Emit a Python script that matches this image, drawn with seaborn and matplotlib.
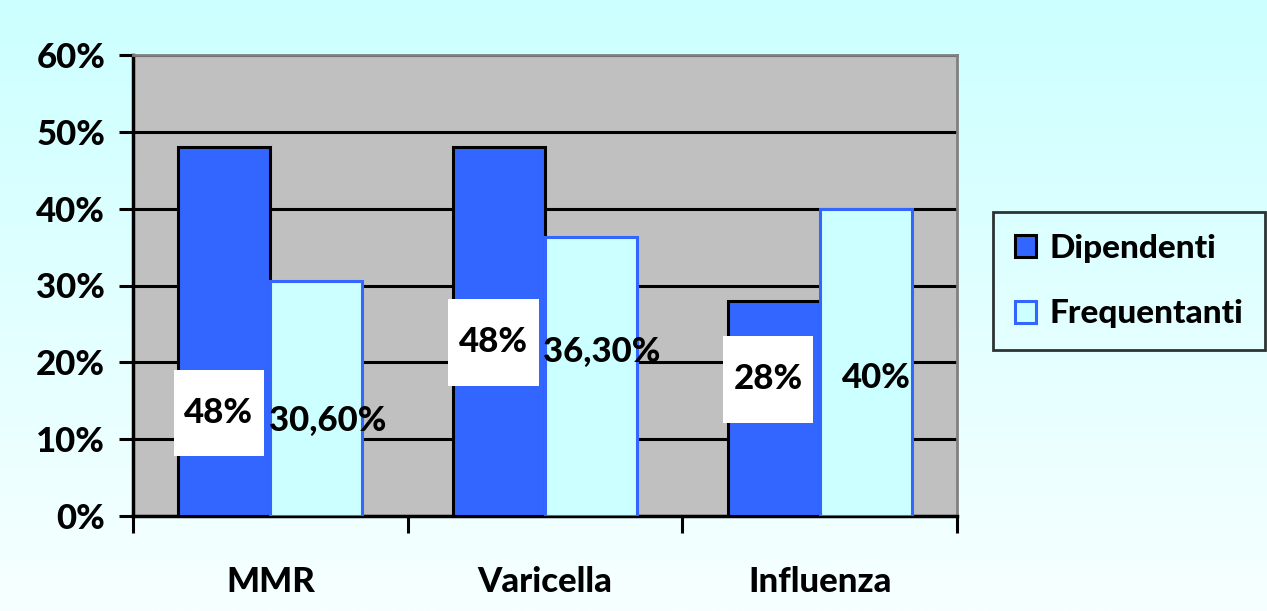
import numpy as np
import pandas as pd
import matplotlib
matplotlib.use("Agg")
import matplotlib.pyplot as plt
from matplotlib.ticker import FuncFormatter, FixedLocator
from matplotlib.colors import LinearSegmentedColormap
from matplotlib.patches import Patch, Rectangle
import seaborn as sns

# data
vaccini = ["MMR", "Varicella", "Influenza"]
gruppi = ["Dipendenti", "Frequentanti"]
dipendenti = [48.0, 48.0, 28.0]
frequentanti = [30.6, 36.3, 40.0]
etichette_dip = ["48%", "48%", "28%"]
etichette_freq = ["30,60%", "36,30%", "40%"]
# heights where the data labels sit (as in the original slide)
pos_dip = [13.4, 22.6, 17.8]
pos_freq = [12.4, 21.3, 18.0]

df = pd.DataFrame({
    "vaccino": vaccini * 2,
    "gruppo": [gruppi[0]] * 3 + [gruppi[1]] * 3,
    "valore": dipendenti + frequentanti,
})

BLUE = "#3366ff"
CYAN = "#ccffff"
GRAY = "#c0c0c0"
W = "black"  # font weight

sns.set_style("white")
plt.rcParams["font.family"] = ["Lato", "DejaVu Sans"]
plt.rcParams["text.color"] = "black"
plt.rcParams["xtick.labelcolor"] = "black"
plt.rcParams["ytick.labelcolor"] = "black"

fig = plt.figure(figsize=(12.67, 6.11), dpi=100)

# gradient background
bg = fig.add_axes([0, 0, 1, 1], zorder=-10)
grad = np.linspace(0, 1, 256).reshape(-1, 1)
cmap = LinearSegmentedColormap.from_list("bg", ["#ccffff", "#f7ffff"])
bg.imshow(grad, aspect="auto", cmap=cmap, extent=[0, 1, 0, 1])
bg.axis("off")

ax = fig.add_axes([133 / 1267, 1 - 516 / 611, (957 - 133) / 1267, (516 - 55) / 611])
ax.set_facecolor(GRAY)

sns.barplot(data=df, x="vaccino", y="valore", hue="gruppo",
            palette=[BLUE, CYAN], width=0.67, ax=ax, saturation=1,
            legend=False, zorder=3)

for bar in ax.containers[0]:
    bar.set_edgecolor("black")
    bar.set_linewidth(2.2)
for bar in ax.containers[1]:
    bar.set_edgecolor(BLUE)
    bar.set_linewidth(2.2)

ax.set_ylim(0, 60)
ax.set_xlim(-0.5, 2.5)
ax.set_yticks(range(0, 61, 10))
ax.yaxis.set_major_formatter(FuncFormatter(lambda v, p: f"{int(v)}%"))
ax.yaxis.grid(True, color="black", linewidth=2.2, zorder=1)
ax.set_axisbelow(True)

ax.set_xlabel("")
ax.set_ylabel("")
ax.tick_params(axis="y", length=10, width=2.2, color="black", pad=10,
               labelsize=25, left=True, labelcolor="black")
ax.tick_params(axis="x", which="major", length=0, pad=36, labelsize=25,
               labelcolor="black")
ax.xaxis.set_minor_locator(FixedLocator([-0.5, 0.5, 1.5, 2.5]))
ax.tick_params(axis="x", which="minor", length=12, width=2.2, color="black",
               bottom=True, direction="out")
for lab in ax.get_xticklabels() + ax.get_yticklabels():
    lab.set_fontweight(W)

for side in ["left", "bottom"]:
    ax.spines[side].set_color("black")
    ax.spines[side].set_linewidth(2.5)
for side in ["top", "right"]:
    ax.spines[side].set_color("#808080")
    ax.spines[side].set_linewidth(2)

# data labels: white boxes for Dipendenti, plain text for Frequentanti
box_w, box_h = 0.33, 11.3
for i, bar in enumerate(ax.containers[0]):
    cx = bar.get_x() + bar.get_width() / 2 - 0.02
    ax.add_patch(Rectangle((cx - box_w / 2, pos_dip[i] - box_h / 2), box_w, box_h,
                           facecolor="white", edgecolor="none", zorder=5))
    ax.text(cx, pos_dip[i], etichette_dip[i], ha="center", va="center",
            fontsize=25, fontweight=W, color="black", zorder=6)
for i, bar in enumerate(ax.containers[1]):
    cx = bar.get_x() + bar.get_width() / 2 + 0.04
    ax.text(cx, pos_freq[i], etichette_freq[i], ha="center", va="center",
            fontsize=25, fontweight=W, color="black", zorder=6)

# legend
handles = [Patch(facecolor=BLUE, edgecolor="black", linewidth=2.2),
           Patch(facecolor=CYAN, edgecolor=BLUE, linewidth=2.2)]
leg = fig.legend(handles, gruppi, loc="center left",
                 bbox_to_anchor=(993 / 1267, 1 - 281 / 611),
                 prop={"size": 24, "weight": W},
                 handlelength=0.65, handleheight=0.65, handletextpad=0.4,
                 labelspacing=1.1, borderpad=0.65, borderaxespad=0,
                 fancybox=False, frameon=True)
leg.get_frame().set_edgecolor("black")
leg.get_frame().set_linewidth(2)
leg.get_frame().set_facecolor("none")
for t in leg.get_texts():
    t.set_color("black")

fig.savefig("out.png", dpi=100)
